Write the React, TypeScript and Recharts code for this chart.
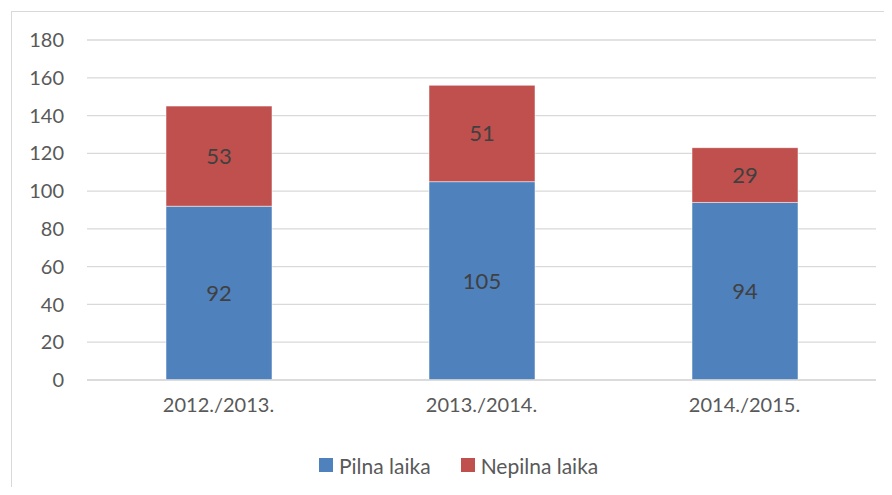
import React from "react";
import {
  BarChart,
  Bar,
  XAxis,
  YAxis,
  CartesianGrid,
  LabelList,
} from "recharts";

const years = ["2012./2013.", "2013./2014.", "2014./2015."];
const fullTime = [92, 105, 94];
const partTime = [53, 51, 29];
const yTicks = [0, 20, 40, 60, 80, 100, 120, 140, 160, 180];

const data = years.map((year, i) => ({
  year,
  pilna: fullTime[i],
  nepilna: partTime[i],
}));

const font = "Lato, 'Open Sans', sans-serif";

const LegendItem = ({ color, text, gap }: { color: string; text: string; gap: number }) => (
  <span style={{ display: "flex", alignItems: "center", marginRight: gap }}>
    <span style={{ width: 14, height: 14, background: color, marginRight: 6 }} />
    {text}
  </span>
);

export default function App() {
  return (
    <div style={{ margin: -8, width: 892, height: 495, position: "relative", overflow: "hidden", background: "#fff" }}>
      <div
        style={{
          position: "absolute",
          left: 11,
          top: 11,
          width: 900,
          height: 500,
          border: "1px solid #d9d9d9",
        }}
      />
      <div style={{ position: "absolute", left: 0, top: 0 }}>
        <BarChart
          width={892}
          height={495}
          data={data}
          margin={{ top: 40, right: 16, left: 0, bottom: 0 }}
        >
          <CartesianGrid vertical={false} stroke="#d9d9d9" strokeWidth={1.3} />
          <XAxis
            dataKey="year"
            axisLine={{ stroke: "#d9d9d9", strokeWidth: 1.3 }}
            tickLine={false}
            tickSize={0}
            tickMargin={18}
            height={115}
            tick={{ fill: "#595959", fontSize: 20, fontFamily: font }}
          />
          <YAxis
            width={87}
            domain={[0, 180]}
            ticks={yTicks}
            axisLine={false}
            tickLine={false}
            tickSize={0}
            tickMargin={23}
            tick={{ fill: "#595959", fontSize: 20, fontFamily: font }}
          />
          <Bar
            dataKey="pilna"
            stackId="a"
            fill="#4f81bd"
            barSize={106}
            stroke="#ffffff"
            strokeWidth={0.5}
            isAnimationActive={false}
          >
            <LabelList
              dataKey="pilna"
              position="center"
              fill="#404040"
              fontSize={22}
              fontFamily={font}
            />
          </Bar>
          <Bar
            dataKey="nepilna"
            stackId="a"
            fill="#c0504d"
            barSize={106}
            stroke="#ffffff"
            strokeWidth={0.5}
            isAnimationActive={false}
          >
            <LabelList
              dataKey="nepilna"
              position="center"
              fill="#404040"
              fontSize={22}
              fontFamily={font}
            />
          </Bar>
        </BarChart>
      </div>
      <div
        style={{
          position: "absolute",
          left: 319,
          top: 451,
          height: 28,
          display: "flex",
          alignItems: "center",
          fontFamily: font,
          fontSize: 21,
          color: "#595959",
        }}
      >
        <LegendItem color="#4f81bd" text="Pilna laika" gap={30} />
        <LegendItem color="#c0504d" text="Nepilna laika" gap={0} />
      </div>
    </div>
  );
}
